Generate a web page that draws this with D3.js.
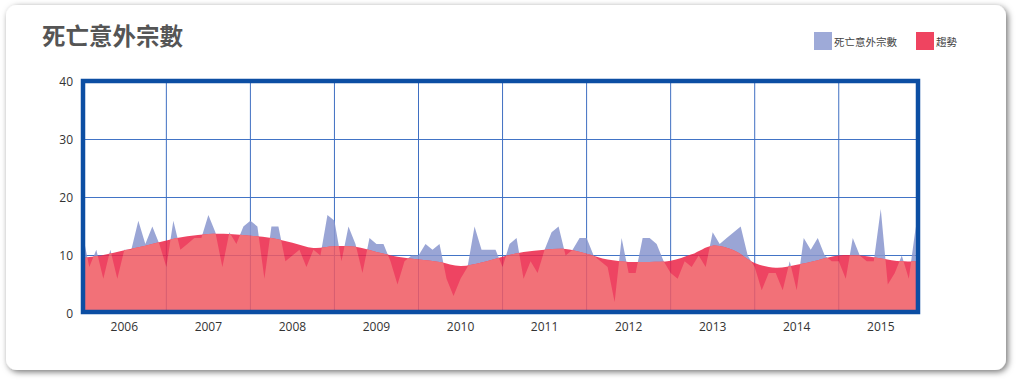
<!DOCTYPE html>
<html>
<head>
<meta charset="utf-8">
<script src="https://cdn.jsdelivr.net/npm/d3@7"></script>
<style>
  html, body { margin: 0; padding: 0; background: #ffffff; }
  svg { display: block; }
</style>
</head>
<body>
<svg id="chart" width="1018" height="380"></svg>
<script>
// ---- data ----
const title = "死亡意外宗數";
const seriesName = "死亡意外宗數";
const trendName = "趨勢";
const yearLabels = ["2006","2007","2008","2009","2010","2011","2012","2013","2014","2015"];
const yTicks = [0, 10, 20, 30, 40];
// monthly counts, Jan 2006 .. Dec 2015
const counts = [
  14, 8, 11, 6, 11, 6, 11, 11, 16, 12, 15, 12,
  8, 16, 11, 12, 13, 13, 17, 14, 8, 14, 12, 15,
  16, 15, 6, 15, 15, 9, 10, 11, 8, 11, 10, 17,
  16, 9, 15, 12, 7, 13, 12, 12, 9, 5, 9, 10,
  10, 12, 11, 12, 6, 3, 6, 8, 15, 11, 11, 11,
  8, 12, 13, 6, 9, 7, 11, 14, 15, 10, 11, 13,
  13, 10, 9, 8, 2, 13, 7, 7, 13, 13, 12, 9,
  7, 6, 9, 8, 10, 8, 14, 12, 13, 14, 15, 10,
  8, 4, 7, 7, 4, 9, 4, 13, 11, 13, 10, 9,
  9, 6, 13, 10, 9, 9, 18, 5, 7, 10, 6, 15
];
// trend read at month indices
const trendMonths = [0,3,6,9,12,15,18,21,24,27,30,33,36,39,42,45,48,51,54,57,60,63,66,69,72,75,78,81,84,87,90,93,96,99,102,105,108,111,114,117,119];
const trendValues = [9.6,10.1,10.9,11.7,12.6,13.3,13.7,13.7,13.4,13.0,12.2,11.3,11.6,11.5,10.6,9.8,9.3,8.9,8.2,8.8,9.8,10.6,11.0,11.1,10.3,9.3,8.9,8.9,9.1,10.2,11.7,10.9,8.7,7.9,8.4,9.2,10.0,10.0,9.5,9.0,9.0];

// ---- layout ----
const svg = d3.select("#chart");
const defs = svg.append("defs");
const sh = defs.append("filter").attr("id","shadow").attr("x","-5%").attr("y","-5%").attr("width","110%").attr("height","115%");
sh.append("feDropShadow").attr("dx",2).attr("dy",2).attr("stdDeviation",3)
  .attr("flood-color","#000").attr("flood-opacity",0.55);

svg.append("rect").attr("x",6).attr("y",5).attr("width",1000).attr("height",365)
  .attr("rx",11).attr("fill","#fff").attr("filter","url(#shadow)");

svg.append("text").attr("x",42).attr("y",45).text(title)
  .attr("font-family","'Noto Sans CJK TC','Noto Sans CJK SC',sans-serif")
  .attr("font-weight","bold").attr("font-size",23.5).attr("fill","#555");

const x = d3.scaleLinear().domain([0, counts.length - 1]).range([82.3, 915.8]);
const y = d3.scaleLinear().domain([0, 40]).range([313.5, 81.5]);
const L = 83, R = 918, T = 81, B = 312;

// grid
const grid = svg.append("g");
grid.selectAll("line.h").data(yTicks.slice(1, -1)).join("line")
  .attr("x1", L).attr("x2", R).attr("y1", d => y(d)).attr("y2", d => y(d))
  .attr("stroke","#4274c6").attr("stroke-width",1);
grid.selectAll("line.v").data(yearLabels.slice(1).map((d, k) => (k + 1) * 12)).join("line")
  .attr("x1", d => x(d)).attr("x2", d => x(d)).attr("y1", T).attr("y2", B)
  .attr("stroke","#3f6fc2").attr("stroke-width",1);

// areas
const pts = counts.map((v, i) => [i, v]);
const tpts = trendMonths.map((m, k) => [m, trendValues[k]]);
const dataArea = d3.area().x(d => x(d[0])).y0(y(0)).y1(d => y(d[1])).curve(d3.curveLinear);
const trendArea = d3.area().x(d => x(d[0])).y0(y(0)).y1(d => y(d[1])).curve(d3.curveCatmullRom);

defs.append("clipPath").attr("id","dataClip").append("path").attr("d", dataArea(pts));
defs.append("clipPath").attr("id","plotClip").append("rect").attr("x",L).attr("y",T).attr("width",R-L).attr("height",B-T);

const areas = svg.append("g").attr("opacity",0.86).attr("clip-path","url(#plotClip)");
areas.append("path").attr("d", dataArea(pts)).attr("fill","#8a97cf");
areas.append("path").attr("d", trendArea(tpts)).attr("fill","#ec2649");
areas.append("path").attr("d", trendArea(tpts)).attr("fill","#f05a63").attr("clip-path","url(#dataClip)");

// border
svg.append("rect").attr("x",L).attr("y",T).attr("width",R-L).attr("height",B-T)
  .attr("fill","none").attr("stroke","#0c4ea3").attr("stroke-width",4.5);

// axes labels
const lblFont = "'Open Sans','Noto Sans',sans-serif";
svg.append("g").selectAll("text").data(yTicks).join("text")
  .attr("x",73).attr("y", d => y(d) + 4).attr("text-anchor","end")
  .attr("font-family",lblFont).attr("font-size",12).attr("fill","#333").text(d => d);
svg.append("g").selectAll("text").data(yearLabels).join("text")
  .attr("x",(d, k) => x(k * 12 + 6)).attr("y",331).attr("text-anchor","middle")
  .attr("font-family",lblFont).attr("font-size",12).attr("fill","#333").text(d => d);

// legend
const leg = [{name: seriesName, color: "#9eaad8", x: 814}, {name: trendName, color: "#ef4460", x: 916}];
const lg = svg.append("g").selectAll("g").data(leg).join("g");
lg.append("rect").attr("x", d => d.x).attr("y",32).attr("width",18).attr("height",18)
  .attr("fill", d => d.color);
lg.append("text").attr("x", d => d.x + 20).attr("y",46).text(d => d.name)
  .attr("font-family","'Noto Sans CJK TC','Noto Sans CJK SC',sans-serif")
  .attr("font-size",10.5).attr("fill","#444");
</script>
</body>
</html>
